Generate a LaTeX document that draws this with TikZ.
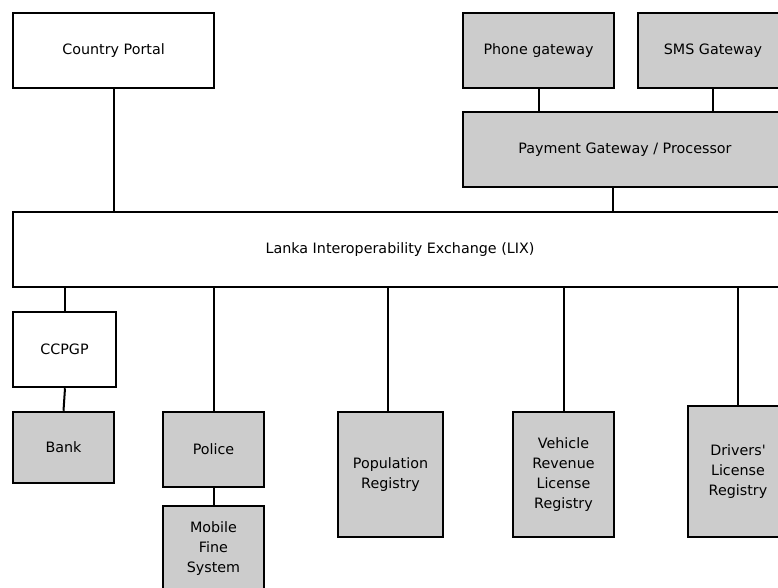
\documentclass[tikz,border=0pt]{standalone}
\usepackage{fontspec}
\newfontfamily\dvs{DejaVu Sans}
\begin{document}
\begin{tikzpicture}[x=1pt,y=-1pt,
  box/.style={draw=black,line width=2.5pt,inner sep=0pt,align=center,
    font=\dvs\fontsize{14.3}{20}\selectfont},
  wbox/.style={box,fill=white},
  gbox/.style={box,fill=boxgray},
  link/.style={line width=2pt}]
\definecolor{boxgray}{HTML}{CCCCCC}
\clip (0,0) rectangle (778,588);
\fill[white] (0,0) rectangle (778,588);
\node[wbox,minimum width=201,minimum height=75] (cp) at (113.5,50.5) {Country Portal};
\node[gbox,minimum width=151,minimum height=75] (ph) at (538.5,50.5) {Phone gateway};
\node[gbox,minimum width=150,minimum height=75] (sms) at (713,50.5) {SMS Gateway};
\node[gbox,minimum width=324,minimum height=75] (pay) at (625,149.5) {Payment Gateway / Processor};
\node[wbox,minimum width=774,minimum height=75] (lix) at (400,249.5) {Lanka Interoperability Exchange (LIX)};
\node[wbox,minimum width=103,minimum height=75] (cc) at (64.5,349.5) {CCPGP};
\node[gbox,minimum width=101,minimum height=71] (bank) at (63.5,447.5) {Bank};
\node[gbox,minimum width=101,minimum height=75] (pol) at (213.5,449.5) {Police};
\node[gbox,minimum width=101,minimum height=86] (mob) at (213.5,549) {Mobile\\Fine\\System};
\node[gbox,minimum width=105,minimum height=125] (popr) at (390.5,474.5) {Population\\Registry};
\node[gbox,minimum width=101,minimum height=125] (veh) at (563.5,474.5) {Vehicle\\Revenue\\License\\Registry};
\node[gbox,minimum width=100,minimum height=131] (drv) at (738,471.5) {Drivers'\\License\\Registry};
% connectors
\draw[link] (cp.south) -- (cp.south |- lix.north);
\draw[link] (ph.south) -- (ph.south |- pay.north);
\draw[link] (sms.south) -- (sms.south |- pay.north);
\draw[link] ([xshift=-12pt]pay.south) -- ([xshift=-12pt]pay.south |- lix.north);
\draw[link] (cc.north) -- (cc.north |- lix.south);
\draw[link] ([xshift=0.5pt]cc.south) -- (bank.north);
\draw[link] (pol.north) -- (pol.north |- lix.south);
\draw[link] (pol.south) -- (mob.north);
\draw[link] ([xshift=-2.5pt]popr.north) -- ([xshift=-2.5pt]popr.north |- lix.south);
\draw[link] (veh.north) -- (veh.north |- lix.south);
\draw[link] (drv.north) -- (drv.north |- lix.south);
\end{tikzpicture}
\end{document}
